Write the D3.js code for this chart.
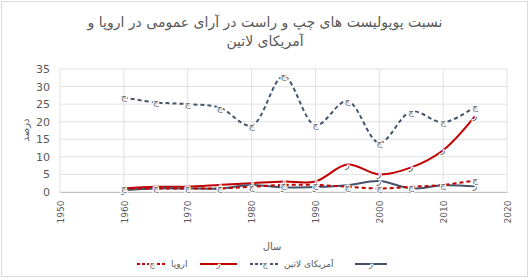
<!DOCTYPE html>
<html>
<head>
<meta charset="utf-8">
<script src="https://cdn.jsdelivr.net/npm/d3@7"></script>
<style>
body { margin: 0; background: #fff; }
text { font-family: "DejaVu Sans", sans-serif; fill: #595959; }
</style>
</head>
<body>
<svg id="chart" width="530" height="279"></svg>
<script>
const years = [1960, 1965, 1970, 1975, 1980, 1985, 1990, 1995, 2000, 2005, 2010, 2015];
const europeLeft = [1, 1, 1, 1, 1.5, 2, 2, 1.5, 1, 1.5, 2, 3.3];
const europeRight = [1, 1.5, 1.5, 2, 2.5, 3, 3, 7.8, 5, 7, 11.9, 21.6];
const latinLeft = [26.9, 25.5, 25, 24, 18.9, 32.9, 19, 25.9, 14, 22.9, 19.8, 24.3];
const latinRight = [0.5, 1, 1, 1, 2, 1.3, 1.4, 1.9, 3.1, 1, 1.9, 1.6];
const xTicks = [1950, 1960, 1970, 1980, 1990, 2000, 2010, 2020];
const yTicks = [0, 5, 10, 15, 20, 25, 30, 35];

const svg = d3.select("#chart");

// outer frame
svg.append("rect").attr("x", 1.5).attr("y", 1.5).attr("width", 526).attr("height", 275)
  .attr("fill", "#fff").attr("stroke", "#d9d9d9");

var x = d3.scaleLinear().domain([1950, 2020]).range([60, 507]);
var y = d3.scaleLinear().domain([0, 35]).range([192, 69]);

// grid
svg.append("g").selectAll("line").data(yTicks).join("line")
  .attr("x1", 60).attr("x2", 507).attr("y1", d => y(d)).attr("y2", d => y(d))
  .attr("stroke", "#d9d9d9").attr("stroke-width", 0.8);
svg.append("g").selectAll("line").data(xTicks).join("line")
  .attr("y1", 69).attr("y2", 192).attr("x1", d => x(d)).attr("x2", d => x(d))
  .attr("stroke", "#d9d9d9").attr("stroke-width", 0.8);

// y axis labels
svg.append("g").attr("transform", "translate(60,0)")
  .call(d3.axisLeft(y).tickValues(yTicks).tickSize(0).tickPadding(10))
  .call(g => g.select(".domain").remove())
  .selectAll("text").style("font-size", "11px").attr("fill", "#595959");

// x axis
svg.append("g").attr("transform", "translate(0,192)")
  .call(d3.axisBottom(x).tickValues(xTicks).tickFormat(d3.format("d")).tickSize(0))
  .call(g => g.select(".domain").attr("stroke", "#bfbfbf"))
  .selectAll("text")
  .style("font-size", "9px").attr("fill", "#595959")
  .attr("transform", "rotate(-90)")
  .attr("text-anchor", "end").attr("dx", "-0.4em").attr("dy", "0.35em").attr("y", 0).attr("x", -5);

const line = d3.line().x((d, i) => x(years[i])).y(d => y(d)).curve(d3.curveCatmullRom.alpha(0.5));

const series = [
  { values: latinLeft, color: "#44546a", dash: "4,3", mark: "چ" },
  { values: europeRight, color: "#c00000", dash: null, mark: "ر" },
  { values: latinRight, color: "#44546a", dash: null, mark: "ر" },
  { values: europeLeft, color: "#c00000", dash: "4,3", mark: "چ" }
];

series.forEach(s => {
  svg.append("path").datum(s.values).attr("d", line)
    .attr("fill", "none").attr("stroke", s.color).attr("stroke-width", 2)
    .attr("stroke-dasharray", s.dash);
  svg.append("g").selectAll("text").data(s.values).join("text")
    .attr("x", (d, i) => x(years[i])).attr("y", d => y(d) + 3)
    .attr("text-anchor", "middle").style("font-size", "9px")
    .attr("fill", "#808080").attr("stroke", "#fff").attr("stroke-width", 2)
    .attr("paint-order", "stroke").text(s.mark);
});

// titles
svg.append("text").attr("x", 265).attr("y", 27).attr("text-anchor", "middle")
  .style("font-size", "14px").attr("direction", "rtl")
  .text("نسبت پوپولیست های چپ و راست در آرای عمومی در اروپا و");
svg.append("text").attr("x", 265).attr("y", 46).attr("text-anchor", "middle")
  .style("font-size", "14px").attr("direction", "rtl").text("آمریکای لاتین");

svg.append("text").attr("transform", "translate(29,130) rotate(-90)").attr("text-anchor", "middle")
  .style("font-size", "10px").text("درصد");
svg.append("text").attr("x", 272).attr("y", 250).attr("text-anchor", "middle")
  .style("font-size", "10px").text("سال");

// legend
const legend = [
  { x: 137, w: 30, color: "#c00000", dash: "3,2", mark: "چ", label: "اروپا" },
  { x: 200, w: 37, color: "#c00000", dash: null, mark: "ر", label: "" },
  { x: 250, w: 30, color: "#44546a", dash: "3,2", mark: "چ", label: "آمریکای لاتین" },
  { x: 355, w: 32, color: "#44546a", dash: null, mark: "ر", label: "" }
];
const lg = svg.append("g").selectAll("g").data(legend).join("g");
lg.append("line").attr("x1", d => d.x).attr("x2", d => d.x + d.w).attr("y1", 264).attr("y2", 264)
  .attr("stroke", d => d.color).attr("stroke-width", 2).attr("stroke-dasharray", d => d.dash);
lg.append("text").attr("x", d => d.x + d.w / 2).attr("y", 267).attr("text-anchor", "middle")
  .style("font-size", "8px").attr("fill", "#808080").attr("stroke", "#fff").attr("stroke-width", 2)
  .attr("paint-order", "stroke").text(d => d.mark);
lg.append("text").attr("x", d => d.x + d.w + 4).attr("y", 267).attr("text-anchor", "start")
  .style("font-size", "9px").text(d => d.label);
</script>
</body>
</html>
